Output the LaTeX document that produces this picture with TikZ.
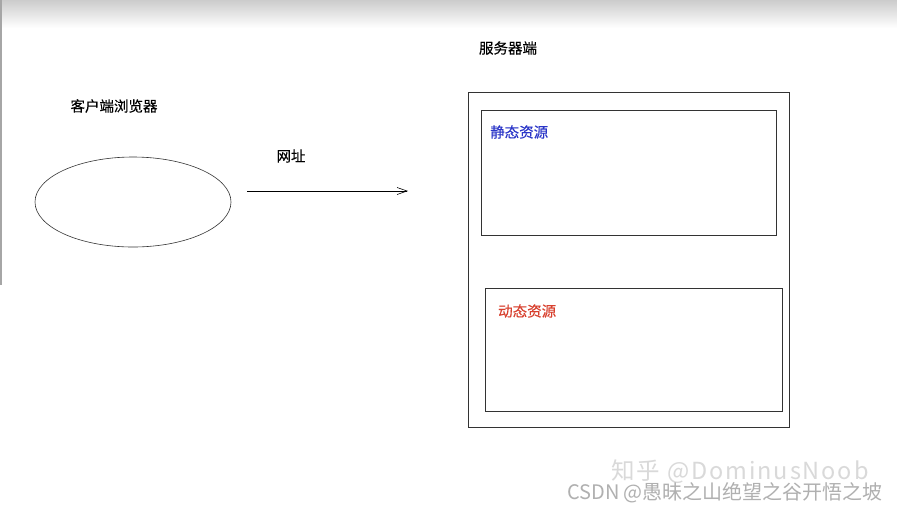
\documentclass[tikz,border=0pt]{standalone}
\usepackage{fontspec}
\usepackage{xcolor}
\usetikzlibrary{shapes.geometric, arrows.meta, positioning, calc}
\newfontfamily\cjk{Noto Sans CJK SC}
\newfontfamily\cjkheavy{Noto Sans CJK SC}[FakeBold=0.35]
\definecolor{BoxLine}{HTML}{333333}
\definecolor{StaticBlue}{HTML}{2A35C8}
\definecolor{DynamicRed}{HTML}{D8402E}
\definecolor{MarkGray}{HTML}{B0B0B0}
\tikzset{
    lbl/.style={inner sep=0pt, font=\cjkheavy\fontsize{14.5}{16}\selectfont},
    resbox/.style={draw=BoxLine, line width=0.8pt, minimum width=#1, inner sep=0pt},
    wmark/.style={inner sep=0pt, text=MarkGray},
}

\begin{document}
\begin{tikzpicture}[x=1pt, y=-1pt]
    \useasboundingbox (0,0) rectangle (897,512);
    \fill[white] (0,0) rectangle (897,512);

    % Window edge (screenshot)
    \shade[top color=gray!40, bottom color=white] (0,0) rectangle (897,28);
    \draw[gray!70, line width=1.5pt] (0.75,0) -- (0.75,285);

    % Client side
    \node[lbl, text=black] (clientlbl) at (114,106) {客户端浏览器};
    \node[ellipse, draw=BoxLine, line width=0.6pt, minimum width=196pt, minimum height=90pt]
        (browser) at (133,202) {};

    % Request
    \coordinate (urlstart) at (247,191);
    \coordinate (urlend) at (408,191);
    \draw[line width=0.6pt, -{Straight Barb[length=10pt, width=7pt]}] (urlstart) -- (urlend);
    \node[lbl] (urllbl) at (291,156) {网址};

    % Server side
    \node[lbl] (serverlbl) at (508,48) {服务器端};
    \node[resbox=321pt, minimum height=335pt] (server) at (628.5,259.5) {};
    \node[resbox=295pt, minimum height=125pt] (static) at (628.5,172.5) {};
    \node[resbox=297pt, minimum height=123pt] (dynamic) at (633.5,349.5) {};
    \node[lbl, anchor=west, text=StaticBlue] (staticlbl) at (490,132) {静态资源};
    \node[lbl, anchor=west, text=DynamicRed] (dynamiclbl) at (498,311) {动态资源};

    % Watermarks
    \node[wmark, text=gray!30, font=\cjk\fontsize{23.5}{25}\selectfont\addfontfeature{LetterSpace=8}]
        (zhihu) at (740,472) {知乎 @DominusNoob};
    \node[wmark, font=\cjk\fontsize{20}{22}\selectfont] (csdn) at (725,493) {CSDN @愚昧之山绝望之谷开悟之坡};
\end{tikzpicture}
\end{document}
